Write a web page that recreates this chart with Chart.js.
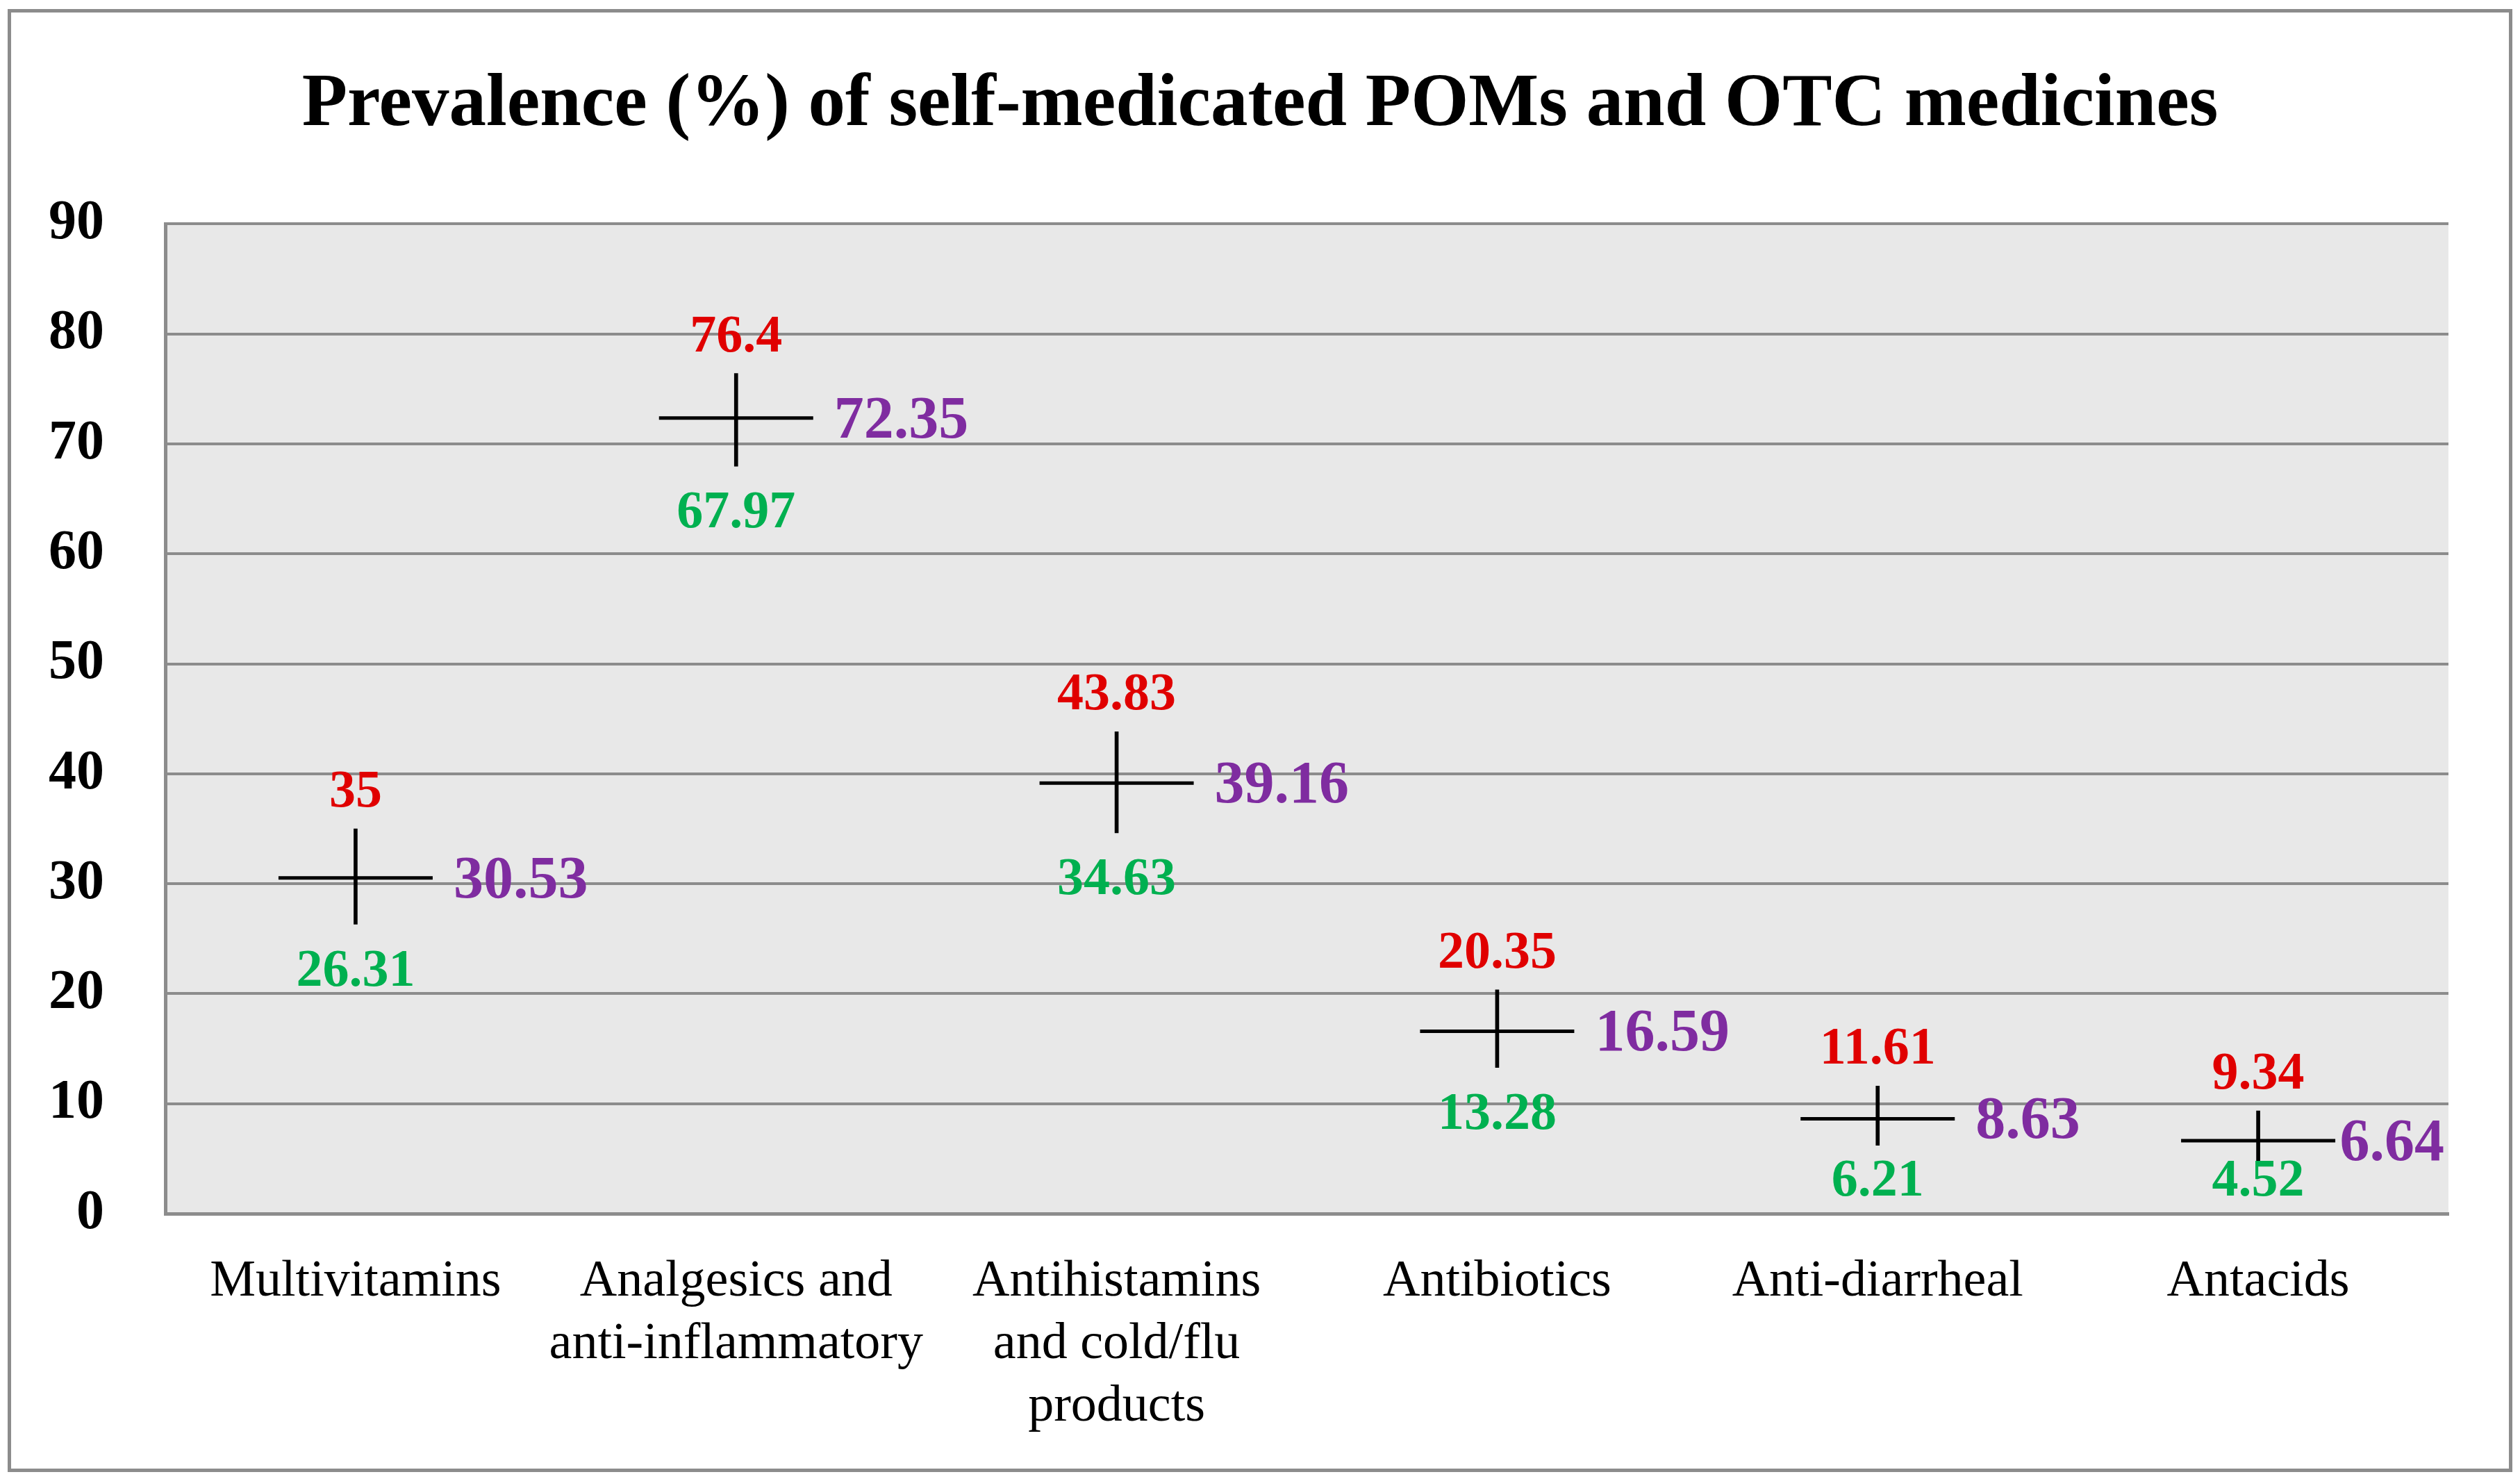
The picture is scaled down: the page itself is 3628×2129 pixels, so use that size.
<!DOCTYPE html>
<html>
<head>
<meta charset="utf-8">
<script src="https://cdn.jsdelivr.net/npm/chart.js@4.4.1/dist/chart.umd.min.js"></script>
<style>
  html, body { margin: 0; padding: 0; background: #fff; }
  #frame {
    position: absolute; left: 11px; top: 13px; width: 3606px; height: 2106px;
    box-sizing: border-box; border: 5px solid #8c8c8c;
  }
  #chart { position: absolute; left: 0; top: 0; }
</style>
</head>
<body>
<div id="frame"></div>
<canvas id="chart" width="3628" height="2129"></canvas>
<script>
const categories = [
    ['Multivitamins'],
    ['Analgesics and', 'anti-inflammatory'],
    ['Antihistamins', 'and cold/flu', 'products'],
    ['Antibiotics'],
    ['Anti-diarrheal'],
    ['Antacids']
];
const maxValues = [35, 76.4, 43.83, 20.35, 11.61, 9.34];
const minValues = [26.31, 67.97, 34.63, 13.28, 6.21, 4.52];
const meanValues = [30.53, 72.35, 39.16, 16.59, 8.63, 6.64];
const yMin = 0, yMax = 90, yStep = 10;

const fontFamily = "'Liberation Serif', 'Times New Roman', serif";
const gridColor = '#8c8c8c';
const halfTick = 111;

// grey plot background
const plotBackground = {
    id: 'plotBackground',
    beforeDraw(chart) {
        const a = chart.chartArea;
        const ctx = chart.ctx;
        ctx.save();
        ctx.fillStyle = '#e8e8e8';
        ctx.fillRect(a.left, a.top, a.right - a.left, a.bottom - a.top);
        ctx.restore();
    }
};

// high / low / mean labels around each cross
const valueLabels = {
    id: 'valueLabels',
    afterDatasetsDraw(chart) {
        const ctx = chart.ctx;
        const x = chart.scales.x, y = chart.scales.y;
        const area = chart.chartArea;
        ctx.save();
        ctx.textBaseline = 'alphabetic';
        for (let i = 0; i < categories.length; i++) {
            const cx = x.getPixelForValue(i);
            ctx.textAlign = 'center';
            ctx.font = `bold 76px ${fontFamily}`;
            ctx.fillStyle = '#e00000';
            ctx.fillText(String(maxValues[i]), cx, y.getPixelForValue(maxValues[i]) - 32);
            ctx.fillStyle = '#00b050';
            let base = y.getPixelForValue(minValues[i]) + 88;
            if (base > area.bottom - 26) base = area.bottom - 26;
            ctx.fillText(String(minValues[i]), cx, base);
            ctx.font = `bold 86px ${fontFamily}`;
            ctx.fillStyle = '#7f2ca0';
            ctx.textAlign = 'left';
            const txt = String(meanValues[i]);
            const w = ctx.measureText(txt).width;
            const lx = Math.min(cx + halfTick + 30, area.right - w - 6);
            ctx.fillText(txt, lx, y.getPixelForValue(meanValues[i]) + 28);
        }
        ctx.restore();
    }
};

new Chart(document.getElementById('chart'), {
    data: {
        labels: categories,
        datasets: [
            {
                type: 'bar',
                data: minValues.map((v, i) => [v, maxValues[i]]),
                backgroundColor: '#000',
                barThickness: 5,
                grouped: false
            },
            {
                type: 'line',
                data: meanValues,
                showLine: false,
                pointStyle: 'line',
                pointRadius: halfTick,
                pointBorderWidth: 5,
                pointBorderColor: '#000',
                pointBackgroundColor: '#000'
            }
        ]
    },
    options: {
        responsive: false,
        devicePixelRatio: 1,
        animation: false,
        layout: { padding: 0, autoPadding: false },
        plugins: {
            legend: { display: false },
            tooltip: { enabled: false },
            title: {
                display: true,
                text: 'Prevalence (%) of self-medicated POMs and OTC medicines',
                color: '#000',
                font: { family: fontFamily, size: 107, weight: 'bold', lineHeight: 1.2 },
                padding: { top: 88, bottom: 106 }
            }
        },
        scales: {
            x: {
                grid: { display: false, drawTicks: false },
                border: { display: true, color: gridColor, width: 5 },
                ticks: {
                    color: '#000',
                    padding: 53,
                    maxRotation: 0,
                    autoSkip: false,
                    font: { family: fontFamily, size: 74, lineHeight: 1.22 }
                },
                afterFit(scale) {
                    scale.height = 382;
                    scale.paddingLeft = 0;
                    scale.paddingRight = 0;
                }
            },
            y: {
                min: yMin,
                max: yMax,
                grid: { color: gridColor, lineWidth: 4, drawTicks: false },
                border: { display: true, color: gridColor, width: 5 },
                ticks: {
                    stepSize: yStep,
                    color: '#000',
                    padding: 88,
                    font: { family: fontFamily, size: 80, weight: 'bold' }
                },
                afterFit(scale) { scale.width = 238; }
            },
            // empty right-hand margin so the title stays centred on the page
            yRight: {
                position: 'right',
                grid: { display: false, drawTicks: false },
                border: { display: false },
                ticks: { display: false },
                afterFit(scale) { scale.width = 103; }
            }
        }
    },
    plugins: [plotBackground, valueLabels]
});
</script>
</body>
</html>
